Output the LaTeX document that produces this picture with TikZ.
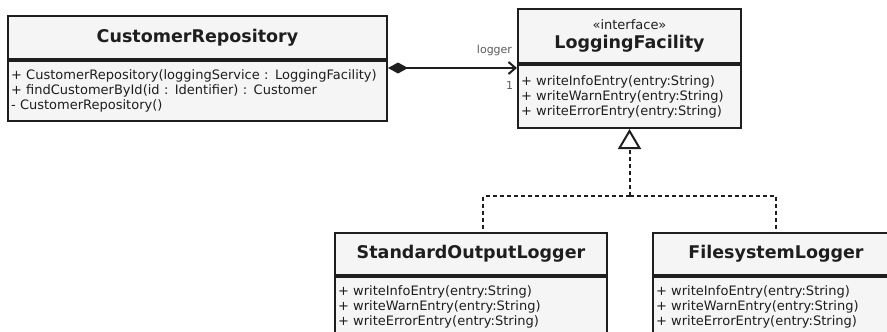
\documentclass[tikz,border=0pt]{standalone}
\usepackage{fontspec}
\setmainfont{DejaVu Sans}
\usetikzlibrary{positioning,arrows.meta}
\definecolor{boxfill}{HTML}{F5F5F5}
\definecolor{ink}{HTML}{1E1E1E}
\definecolor{note}{HTML}{5A5A5A}

\begin{document}
\begin{tikzpicture}[x=1pt,y=-1pt,line width=2pt,
	head/.style={draw=ink,fill=boxfill,text=ink,anchor=north west,inner sep=0pt,
		font=\fontsize{17.5}{20}\selectfont\bfseries,align=center},
	body/.style={draw=ink,fill=boxfill,text=ink,inner xsep=3pt,inner ysep=0pt,
		font=\fontsize{13}{15}\selectfont,align=left},
	lbl/.style={text=note,font=\fontsize{11}{12}\selectfont,inner sep=0pt},
	realize/.style={draw=ink,dash pattern=on 4pt off 3pt}]
\def\ops{+ writeInfoEntry(entry:String)\\+ writeWarnEntry(entry:String)\\+ writeErrorEntry(entry:String)}

\useasboundingbox (0,0) rectangle (887,332);
\clip (0,0) rectangle (887,332);

% repository
\node[head,minimum width=379pt,minimum height=43pt] (crhead) at (7,15) {CustomerRepository};
\node[body,text width=373pt,minimum height=60pt,below right=0pt and 0pt of crhead.south west] (crbody)
	{+ CustomerRepository(loggingService : LoggingFacility)\\+ findCustomerById(id : Identifier) : Customer\\- CustomerRepository()};

% interface
\node[head,minimum width=223pt,minimum height=54pt] (lfhead) at (517,8)
	{{\fontsize{13}{15}\mdseries\selectfont «interface»}\\[-1pt]LoggingFacility};
\node[body,text width=217pt,minimum height=63pt,below right=0pt and 0pt of lfhead.south west] (lfbody) {\ops};

% implementations
\foreach \nm/\x/\w/\title in {sol/334/272/StandardOutputLogger,fsl/652/246/FilesystemLogger}{
	\pgfmathsetmacro\tw{\w-6}
	\node[head,minimum width=\w pt,minimum height=42pt] (\nm-head) at (\x,232) {\title};
	\node[body,text width=\tw pt,minimum height=60pt,below right=0pt and 0pt of \nm-head.south west] (\nm-body) {\ops};
}

% composition
\draw[ink,{Diamond[length=20pt,width=11pt]}-{Straight Barb[length=7pt,width=12pt]}]
	([yshift=-8pt]crbody.north east) -- ([yshift=-4pt]lfbody.north west)
	node[lbl,pos=1,anchor=south east,xshift=-4pt,yshift=11pt] {logger}
	node[lbl,pos=1,anchor=north east,xshift=-3pt,yshift=-12pt] {1};

% realization
\coordinate (split) at ([yshift=-67pt]lfbody.south);
\draw[realize,-{Triangle[open,length=20pt,width=23pt]}] (split) -- (lfbody.south);
\draw[realize] (split) -| ([xshift=12pt]sol-head.north);
\draw[realize] (split) -| (fsl-head.north);

\end{tikzpicture}
\end{document}
